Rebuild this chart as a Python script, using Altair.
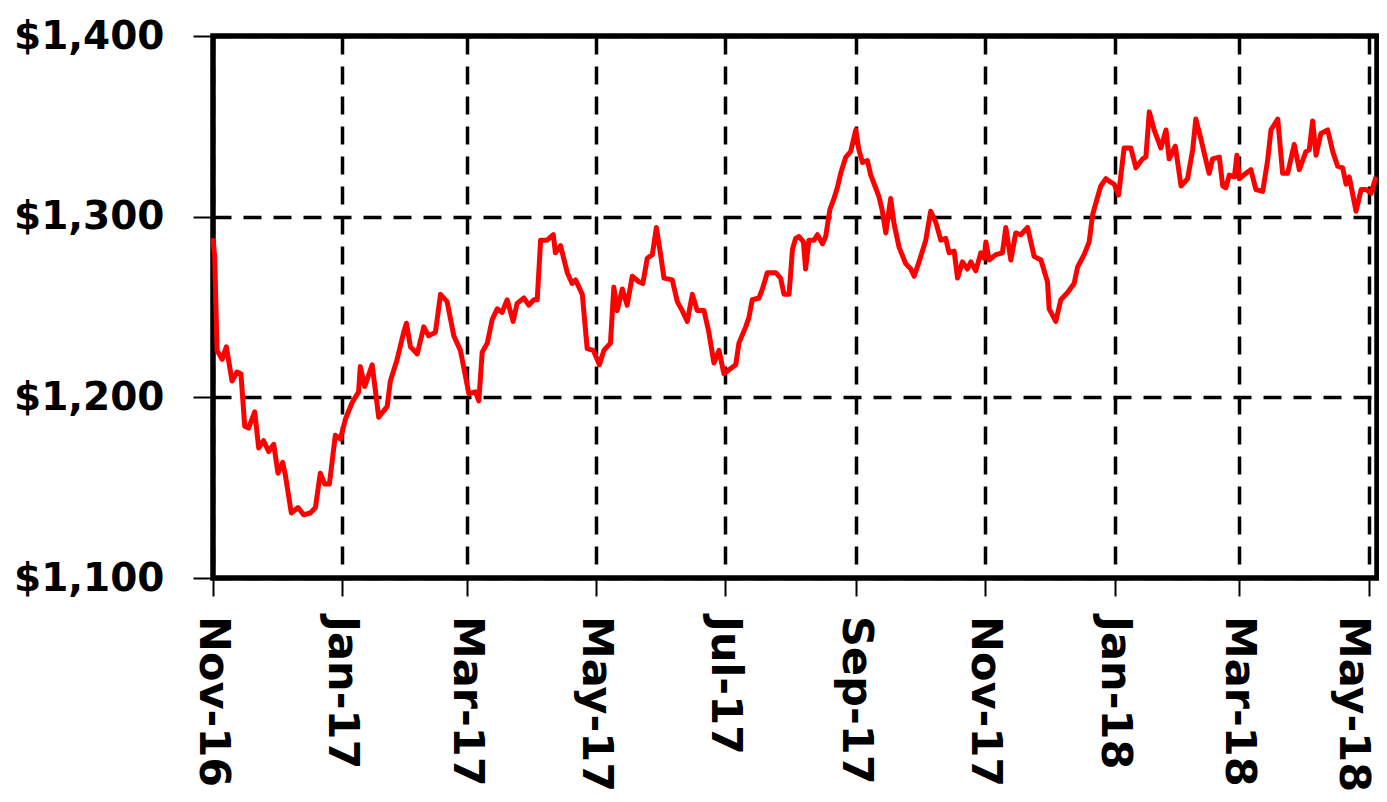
import altair as alt
import pandas as pd

# x positions, as days after the first point (9 Nov 2016)
START = "2016-11-09"
days = [
    0, 0.8, 1.9, 4.3, 6.3, 9.0, 11.3, 13.2, 15.0, 16.8, 19.7, 21.6, 23.9, 26.3, 28.7,
    30.7, 32.9, 34.2, 37.0, 40.2, 42.8, 46.0, 48.4, 50.7, 52.8, 55.0, 57.8, 60.2,
    62.6, 65.7, 68.8, 69.6, 71.7, 75.2, 78.3, 82.3, 83.8, 87.0, 90.1, 91.4, 93.3,
    96.5, 99.6, 101.9, 105.1, 107.5, 110.6, 113.8, 116.9, 120.9, 124.0, 125.6,
    127.2, 129.6, 131.9, 134.3, 136.6, 139.0, 141.8, 143.7, 146.9, 149.2, 151.6,
    153.2, 154.8, 157.9, 160.8, 161.8, 164.2, 167.4, 169.7, 171.3, 174.5, 176.8,
    179.7, 182.6, 184.7, 187.8, 189.4, 191.0, 193.4, 195.7, 198.1, 201.2, 203.1,
    205.2, 207.6, 209.5, 211.5, 213.1, 217.0, 219.4, 221.7, 224.1, 226.5, 228.8,
    232.0, 234.3, 236.7, 239.1, 241.4, 244.6, 247.0, 248.5, 251.7, 253.2, 254.8,
    258.0, 259.6, 261.9, 265.9, 268.2, 269.8, 272.2, 273.8, 275.3, 276.9, 279.0,
    280.0, 281.6, 284.0, 285.6, 288.0, 289.5, 291.5, 293.4, 295.0, 296.6, 299.0,
    301.3, 303.7, 305.2, 306.9, 309.2, 310.8, 313.1, 314.7, 316.3, 317.9, 320.2,
    321.8, 324.2, 327.3, 329.7, 331.3, 333.6, 336.8, 339.1, 341.5, 343.9, 346.2,
    347.8, 350.2, 351.8, 354.1, 356.5, 358.1, 360.4, 362.8, 364.3, 365.2, 366.7,
    369.9, 373.0, 374.6, 377.0, 379.3, 381.7, 384.9, 388.0, 391.2, 394.3, 395.1,
    398.2, 400.6, 403.8, 406.9, 408.5, 411.6, 414.0, 415.6, 418.0, 419.5, 421.9,
    424.3, 425.8, 427.9, 430.5, 433.7, 436.1, 439.2, 440.8, 442.4, 444.7, 447.9,
    450.3, 451.8, 454.7, 457.4, 460.5, 462.9, 464.4, 466.8, 469.2, 470.7, 472.3,
    475.5, 477.1, 478.6, 480.2, 482.6, 483.8, 484.9, 488.1, 490.4, 492.8, 496.0,
    498.3, 499.9, 503.1, 505.4, 507.8, 510.9, 513.3, 516.4, 518.0, 519.6, 521.2,
    523.5, 526.7, 529.1, 531.4, 533.8, 535.4, 536.9, 540.1, 542.5, 544.8, 547.2,
    549.5,
]

price = [
    1288, 1278, 1226, 1221, 1228, 1209, 1214, 1213, 1184, 1183, 1192, 1172, 1176, 1170, 1174,
    1158, 1164, 1157, 1136, 1139, 1135, 1136, 1139, 1158, 1152, 1152, 1179, 1177,
    1188, 1197, 1203, 1217, 1206, 1218, 1189, 1195, 1209, 1221, 1236, 1241, 1228,
    1224, 1239, 1234, 1236, 1257, 1253, 1234, 1226, 1202, 1203, 1198,
    1225, 1230, 1243, 1249, 1247, 1254, 1242, 1252, 1255, 1251, 1254,
    1254, 1287, 1287, 1290, 1280, 1284, 1269, 1263, 1265, 1257, 1227,
    1226, 1218, 1226, 1230, 1261, 1248, 1260, 1251, 1267, 1264, 1263,
    1277, 1279, 1294, 1279, 1266, 1265, 1253, 1248, 1242, 1257, 1248,
    1248, 1236, 1219, 1226, 1213, 1216, 1218, 1230, 1239, 1244, 1254,
    1255, 1260, 1269, 1269, 1266, 1257, 1257, 1282, 1288, 1289, 1286,
    1271, 1287, 1287, 1290, 1285, 1289, 1304, 1310, 1316, 1324, 1333,
    1336, 1348, 1337, 1330, 1331, 1323, 1316, 1311, 1303, 1291, 1310,
    1296, 1283, 1274, 1271, 1267, 1275, 1287, 1303, 1297, 1287, 1288,
    1280, 1281, 1266, 1275, 1271, 1275, 1270, 1280, 1277, 1286, 1276,
    1279, 1280, 1294, 1276, 1291, 1290, 1294, 1278, 1276, 1264, 1249,
    1242, 1254, 1258, 1263, 1272, 1279, 1286, 1301, 1311, 1317, 1321,
    1319, 1318, 1312, 1338, 1338, 1327, 1332, 1333, 1358, 1348, 1338,
    1348, 1332, 1339, 1317, 1321, 1337, 1354, 1343, 1331, 1324, 1332,
    1333, 1317, 1316, 1323, 1322, 1334, 1321, 1324, 1326, 1315, 1314,
    1331, 1348, 1354, 1324, 1324, 1340, 1326, 1336, 1337, 1353, 1334,
    1346, 1348, 1336, 1328, 1327, 1318, 1322, 1303, 1315, 1315, 1313,
    1322,
]

y_ticks = [1100, 1200, 1300, 1400]
x_tick_dates = [
    "2016-11-09", "2017-01-09", "2017-03-09", "2017-05-09", "2017-07-09",
    "2017-09-09", "2017-11-09", "2018-01-09", "2018-03-09", "2018-05-09",
]
x_tick_labels = [
    "Nov-16", "Jan-17", "Mar-17", "May-17", "Jul-17",
    "Sep-17", "Nov-17", "Jan-18", "Mar-18", "May-18",
]
x_domain = ["2016-11-09", "2018-05-13"]

W, H = 1164, 542

stamps = pd.Timestamp(START) + pd.to_timedelta(days, unit="D")
df = pd.DataFrame({
    "date": stamps.strftime("%Y-%m-%dT%H:%M:%SZ"),
    "price": price,
})
ticks_df = pd.DataFrame({
    "date": [d + "T00:00:00Z" for d in x_tick_dates],
    "label": x_tick_labels,
})


def dt(s):
    y, m, d = (int(p) for p in s.split("-"))
    return alt.DateTime(year=y, month=m, date=d, utc=True)


x_enc = alt.X(
    "date:T",
    scale=alt.Scale(type="utc", domain=[dt(s) for s in x_domain], nice=False),
    axis=alt.Axis(
        values=[dt(s) for s in x_tick_dates],
        labels=False,
        title=None,
        tickSize=18,
    ),
)

line = (
    alt.Chart(df)
    .mark_line(color="#FF0000", strokeWidth=5, strokeJoin="round")
    .encode(
        x=x_enc,
        y=alt.Y(
            "price:Q",
            scale=alt.Scale(domain=[1100, 1400], nice=False, zero=False),
            axis=alt.Axis(
                values=y_ticks,
                format="$,.0f",
                title=None,
                labelFontSize=39,
                labelPadding=29,
                tickSize=20,
            ),
        ),
    )
)

label_style = dict(
    angle=90,
    align="left",
    baseline="middle",
    font="DejaVu Sans",
    fontWeight="bold",
    fontSize=43,
    color="black",
)

labels_main = (
    alt.Chart(ticks_df.iloc[:-1])
    .mark_text(**label_style)
    .encode(x=alt.X("date:T"), y=alt.value(H + 38), text="label:N")
)
# last label nudged left so that it stays inside the page
labels_last = (
    alt.Chart(ticks_df.iloc[-1:])
    .mark_text(dy=16, **label_style)
    .encode(x=alt.X("date:T"), y=alt.value(H + 38), text="label:N")
)

chart = (
    alt.layer(line, labels_main, labels_last)
    .properties(
        width=W,
        height=H,
        autosize=alt.AutoSizeParams(type="none"),
        padding={"left": 205, "top": 28, "right": 2, "bottom": 216},
        background="white",
    )
    .configure_view(stroke="black", strokeWidth=5.5)
    .configure_axis(
        domain=False,
        grid=True,
        gridColor="black",
        gridDash=[18, 12],
        gridWidth=3.5,
        gridOpacity=1,
        tickColor="black",
        tickWidth=2,
        labelColor="black",
        labelFont="DejaVu Sans",
        labelFontWeight="bold",
        labelOverlap=False,
        labelFlush=False,
        labelBound=False,
    )
)

chart.save("out.html", embed_options={"renderer": "svg", "actions": False})
